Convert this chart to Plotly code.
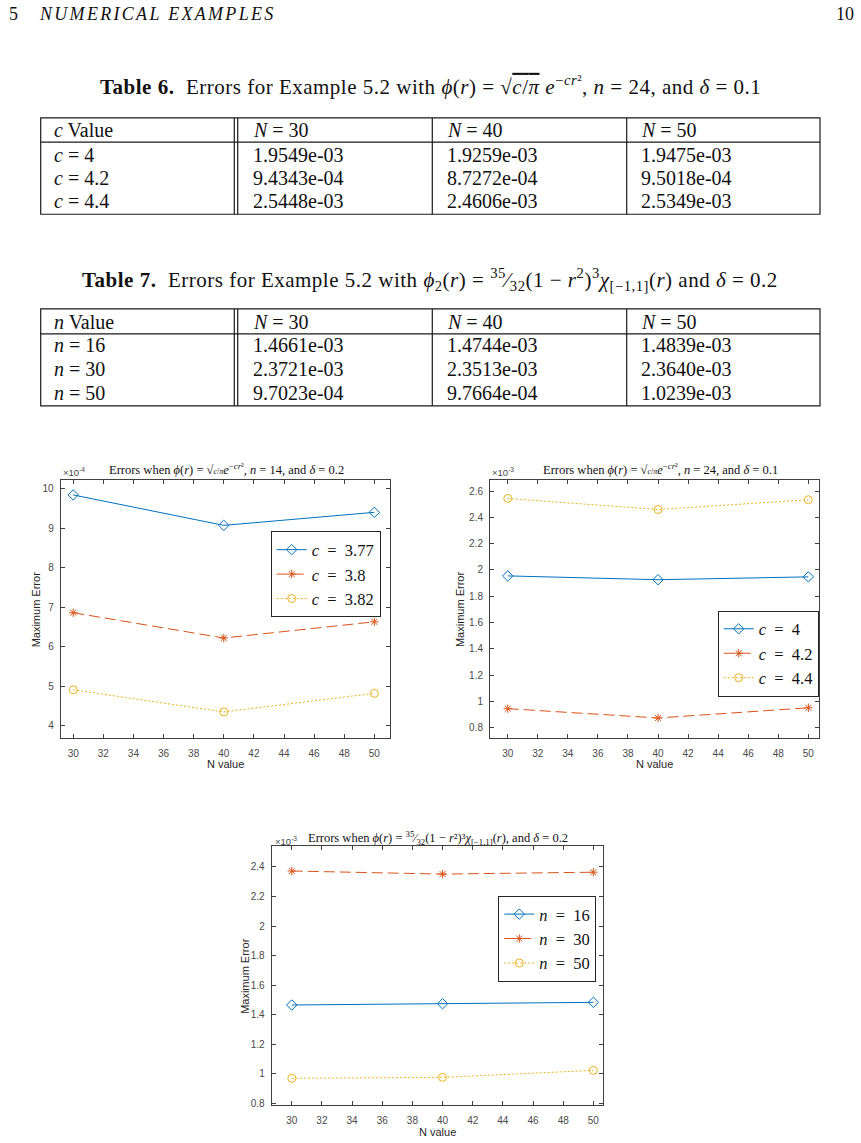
import plotly.graph_objects as go

# ---------------- data ----------------
N_values = [30, 40, 50]

# Table 6 / Figure (top-right): phi gaussian, n = 24, delta = 0.1
c_labels_t6 = ["4", "4.2", "4.4"]
err_c4 = [1.9549e-03, 1.9259e-03, 1.9475e-03]
err_c42 = [9.4343e-04, 8.7272e-04, 9.5018e-04]
err_c44 = [2.5448e-03, 2.4606e-03, 2.5349e-03]

# Table 7 / Figure (bottom): compact support phi, delta = 0.2
n_labels_t7 = ["16", "30", "50"]
err_n16 = [1.4661e-03, 1.4744e-03, 1.4839e-03]
err_n30 = [2.3721e-03, 2.3513e-03, 2.3640e-03]
err_n50 = [9.7023e-04, 9.7664e-04, 1.0239e-03]

# Figure (top-left): phi gaussian, n = 14, delta = 0.2
c_labels_f1 = ["3.77", "3.8", "3.82"]
err_c377 = [9.84e-04, 9.07e-04, 9.40e-04]
err_c38 = [6.86e-04, 6.22e-04, 6.63e-04]
err_c382 = [4.91e-04, 4.35e-04, 4.82e-04]

x_ticks = [30, 32, 34, 36, 38, 40, 42, 44, 46, 48, 50]
y_ticks_f1 = [4, 5, 6, 7, 8, 9, 10]
y_ticks_f2 = [0.8, 1.0, 1.2, 1.4, 1.6, 1.8, 2.0, 2.2, 2.4, 2.6]
y_ticks_f3 = [0.8, 1.0, 1.2, 1.4, 1.6, 1.8, 2.0, 2.2, 2.4]

# ---------------- helpers ----------------
W, H = 861, 1143
def X(px):
    return px / W
def Y(py):
    return 1 - py / H

BLUE, ORANGE, YELLOW = "#0072BD", "#D95319", "#EDB120"
SERIF = "Liberation Serif"
SANS = "Liberation Sans"
AXC = "#404040"
EQ = "\u2002=\u2002"

fig = go.Figure()
ann = []
def txt(x, y, text, size, family=SERIF, color="#111", xanchor="center", angle=0):
    ann.append(dict(x=X(x), y=Y(y), xref="paper", yref="paper", text=text,
                    showarrow=False, xanchor=xanchor, yanchor="middle",
                    textangle=angle, font=dict(family=family, size=size, color=color)))

# ---------------- tables ----------------
def fmt(v):
    return f"{v:.4e}"

col_text_x = [51.7, 250.7, 445, 639.3]

def add_table(top, hline, bottom, row_y, first_header, row_labels, cols):
    header = [first_header] + [f"<i>N</i> = {n}" for n in N_values]
    for j, h in enumerate(header):
        txt(col_text_x[j], row_y[0], h, 20, xanchor="left")
    for i, lab in enumerate(row_labels):
        txt(col_text_x[0], row_y[i + 1], lab, 20, xanchor="left")
        for j, col in enumerate(cols):
            txt(col_text_x[j + 1], row_y[i + 1], fmt(col[i]), 20, xanchor="left")
    lc = dict(color="#1a1a1a", width=1.2)
    fig.add_shape(type="rect", xref="paper", yref="paper",
                  x0=X(40.7), x1=X(820), y0=Y(top), y1=Y(bottom), line=lc)
    fig.add_shape(type="line", xref="paper", yref="paper",
                  x0=X(40.7), x1=X(820), y0=Y(hline), y1=Y(hline), line=lc)
    for xv in [234.3, 237.7, 432.3, 626.7]:
        fig.add_shape(type="line", xref="paper", yref="paper",
                      x0=X(xv), x1=X(xv), y0=Y(top), y1=Y(bottom), line=lc)

t6_cols = [[err_c4[i], err_c42[i], err_c44[i]] for i in range(3)]
t7_cols = [[err_n16[i], err_n30[i], err_n50[i]] for i in range(3)]
add_table(118.3, 142.7, 215, [130.5, 155.5, 178.5, 202], "<i>c</i> Value",
          [f"<i>c</i> = {c}" for c in c_labels_t6], t6_cols)
add_table(310, 335, 407.3, [323, 346.5, 370.5, 394.5], "<i>n</i> Value",
          [f"<i>n</i> = {n}" for n in n_labels_t7], t7_cols)

# ---------------- charts ----------------
def add_series(xa, ya, ys, name, color, dash, symbol, legend, msize=8):
    fig.add_trace(go.Scatter(
        x=N_values, y=ys, xaxis=xa, yaxis=ya, name=name, legend=legend,
        mode="lines+markers",
        line=dict(color=color, width=1, dash=dash),
        marker=dict(symbol=symbol, size=msize, color=color, line=dict(color=color, width=1)),
    ))

DASH, DOT = "11px,5px", "2px,2px"
add_series("x", "y", err_c377, f"<i>c</i>{EQ}{c_labels_f1[0]}", BLUE, "solid", "diamond-open", "legend")
add_series("x", "y", err_c38, f"<i>c</i>{EQ}{c_labels_f1[1]}", ORANGE, DASH, "asterisk-open", "legend", 7)
add_series("x", "y", err_c382, f"<i>c</i>{EQ}{c_labels_f1[2]}", YELLOW, DOT, "circle-open", "legend")

add_series("x2", "y2", err_c4, f"<i>c</i>{EQ}{c_labels_t6[0]}", BLUE, "solid", "diamond-open", "legend2")
add_series("x2", "y2", err_c42, f"<i>c</i>{EQ}{c_labels_t6[1]}", ORANGE, DASH, "asterisk-open", "legend2", 7)
add_series("x2", "y2", err_c44, f"<i>c</i>{EQ}{c_labels_t6[2]}", YELLOW, DOT, "circle-open", "legend2")

add_series("x3", "y3", err_n16, f"<i>n</i>{EQ}{n_labels_t7[0]}", BLUE, "solid", "diamond-open", "legend3")
add_series("x3", "y3", err_n30, f"<i>n</i>{EQ}{n_labels_t7[1]}", ORANGE, DASH, "asterisk-open", "legend3", 7)
add_series("x3", "y3", err_n50, f"<i>n</i>{EQ}{n_labels_t7[2]}", YELLOW, DOT, "circle-open", "legend3")

axis_common = dict(showline=True, linecolor=AXC, linewidth=1, mirror="ticks",
                   ticks="inside", ticklen=4, tickwidth=1, tickcolor=AXC,
                   showgrid=False, zeroline=False,
                   tickfont=dict(family=SANS, size=10, color="#4a4a4a"))

def axes(xa, ya, xdom, ydom, xr, yr, yt, scale):
    fig.update_layout(**{
        xa: dict(domain=[X(xdom[0]), X(xdom[1])], range=xr, tickvals=x_ticks,
                 ticklabelstandoff=6, **axis_common),
        ya: dict(domain=[Y(ydom[1]), Y(ydom[0])], range=[yr[0] * scale, yr[1] * scale],
                 tickvals=[t * scale for t in yt], ticktext=[f"{t:g}" for t in yt],
                 ticklabelstandoff=4, **axis_common),
    })

axes("xaxis", "yaxis", (60.7, 390), (482, 741), [29.17, 51.04], [3.68, 10.21], y_ticks_f1, 1e-4)
axes("xaxis2", "yaxis2", (490, 819), (482, 741), [28.82, 50.71], [0.717, 2.683], y_ticks_f2, 1e-3)
axes("xaxis3", "yaxis3", (271.7, 603.3), (849.3, 1109.3), [28.67, 50.66], [0.787, 2.539], y_ticks_f3, 1e-3)
fig.update_layout(xaxis=dict(anchor="y"), yaxis=dict(anchor="x"),
                  xaxis2=dict(anchor="y2"), yaxis2=dict(anchor="x2"),
                  xaxis3=dict(anchor="y3"), yaxis3=dict(anchor="x3"))

def legend_cfg(left, top):
    return dict(x=X(left), y=Y(top), xanchor="left", yanchor="top",
                bgcolor="white", bordercolor="#262626", borderwidth=1,
                font=dict(family=SERIF, size=16.5, color="#111"),
                itemwidth=30, tracegroupgap=0, traceorder="normal")

fig.update_layout(
    legend=legend_cfg(270.7, 533.3),
    legend2=legend_cfg(717.7, 612.7),
    legend3=legend_cfg(498.3, 899),
)

# ---------------- text ----------------
# page header
txt(7, 14, "5", 18, xanchor="left")
txt(36.7, 14, "<i><span style='letter-spacing:2.3px'>NUMERICAL EXAMPLES</span></i>", 18, xanchor="left")
txt(856, 14, "10", 18, xanchor="right")

# table captions
cap6 = ("<span style='letter-spacing:0.5px'><b>Table 6.</b>  Errors for Example 5.2 with "
        "<i>ϕ</i>(<i>r</i>) = √<span style='text-decoration:overline'><i>c</i>/<i>π</i></span> "
        "<i>e</i><sup>−<i>cr</i>²</sup>, <i>n</i> = 24, and <i>δ</i> = 0.1</span>")
cap7 = ("<span style='letter-spacing:0.5px'><b>Table 7.</b>  Errors for Example 5.2 with "
        "<i>ϕ</i><sub>2</sub>(<i>r</i>) = <sup>35</sup>⁄<sub>32</sub>(1 − <i>r</i><sup>2</sup>)<sup>3</sup>"
        "<i>χ</i><sub>[−1,1]</sub>(<i>r</i>) and <i>δ</i> = 0.2</span>")
txt(430, 86, cap6, 21)
txt(430, 280, cap7, 21)

# chart titles
t1 = "Errors when <i>ϕ</i>(<i>r</i>) = √<span style='font-size:8px'><i>c</i>/<i>π</i></span><i>e</i><sup>−<i>cr</i>²</sup>, <i>n</i> = 14, and <i>δ</i> = 0.2"
t2 = "Errors when <i>ϕ</i>(<i>r</i>) = √<span style='font-size:8px'><i>c</i>/<i>π</i></span><i>e</i><sup>−<i>cr</i>²</sup>, <i>n</i> = 24, and <i>δ</i> = 0.1"
t3 = "Errors when <i>ϕ</i>(<i>r</i>) = <sup>35</sup>⁄<sub>32</sub>(1 − <i>r</i>²)³<i>χ</i><sub>[−1,1]</sub>(<i>r</i>), and <i>δ</i> = 0.2"
txt(226.5, 470.5, t1, 12.5)
txt(660, 470.5, t2, 12.5)
txt(438, 840.5, t3, 12.5)

# exponent labels
txt(61, 474, "×10<sup>-4</sup>", 9.5, family=SANS, color="#4a4a4a", xanchor="left")
txt(490, 474, "×10<sup>-3</sup>", 9.5, family=SANS, color="#4a4a4a", xanchor="left")
txt(273, 843.5, "×10<sup>-3</sup>", 9.5, family=SANS, color="#4a4a4a", xanchor="left")

# axis titles
for cx, cy in [(225.3, 767), (654.5, 767), (437.5, 1135.5)]:
    txt(cx, cy, "N value", 11, family=SANS, color="#262626")
for cx, cy in [(36, 611.5), (460.7, 611.5), (245, 979.3)]:
    txt(cx, cy, "Maximum Error", 11, family=SANS, color="#262626", angle=-90)

fig.update_layout(
    width=W, height=H, margin=dict(l=0, r=0, t=0, b=0),
    paper_bgcolor="white", plot_bgcolor="white",
    annotations=ann, showlegend=True,
)

fig.write_html("out.html", config={"displayModeBar": False},
               post_script="document.body.style.margin='0';")
